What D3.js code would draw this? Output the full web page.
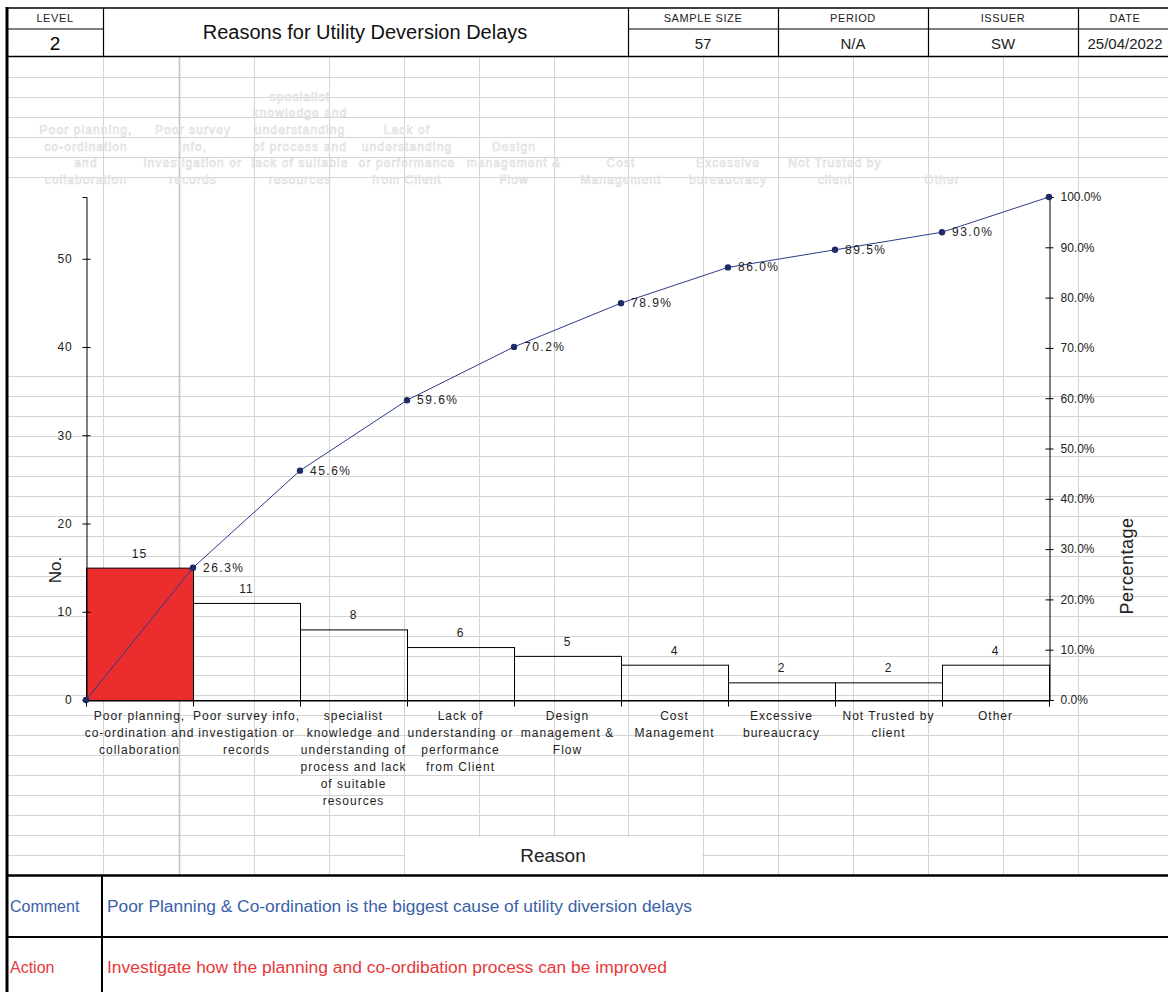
<!DOCTYPE html>
<html>
<head>
<meta charset="utf-8">
<script src="https://cdn.jsdelivr.net/npm/d3@7"></script>
<style>
  body { margin: 0; background: #fff; }
  svg { display: block; }
  text { font-family: "Liberation Sans", Arial, sans-serif; }
</style>
</head>
<body>
<svg id="sheet" width="1168" height="992"></svg>
<script>
// ---- report data ----
const level = "2";
const title = "Reasons for Utility Deversion Delays";
const headerFields = ["SAMPLE SIZE", "PERIOD", "ISSUER", "DATE"];
const headerValues = ["57", "N/A", "SW", "25/04/2022"];

const reasons = [
  "Poor planning, co-ordination and collaboration",
  "Poor survey info, investigation or records",
  "specialist knowledge and understanding of process and lack of suitable resources",
  "Lack of understanding or performance from Client",
  "Design management & Flow",
  "Cost Management",
  "Excessive bureaucracy",
  "Not Trusted by client",
  "Other"
];
// category labels as wrapped under the axis
const reasonLines = [
  ["Poor planning,", "co-ordination and", "collaboration"],
  ["Poor survey info,", "investigation or", "records"],
  ["specialist", "knowledge and", "understanding of", "process and lack", "of suitable", "resources"],
  ["Lack of", "understanding or", "performance", "from Client"],
  ["Design", "management &", "Flow"],
  ["Cost", "Management"],
  ["Excessive", "bureaucracy"],
  ["Not Trusted by", "client"],
  ["Other"]
];
// secondary (cumulative) axis labels, wrapped narrower
const reasonLinesTop = [
  ["Poor planning,", "co-ordination", "and", "collaboration"],
  ["Poor survey", "info,", "investigation or", "records"],
  ["specialist", "knowledge and", "understanding", "of process and", "lack of suitable", "resources"],
  ["Lack of", "understanding", "or performance", "from Client"],
  ["Design", "management &", "Flow"],
  ["Cost", "Management"],
  ["Excessive", "bureaucracy"],
  ["Not Trusted by", "client"],
  ["Other"]
];
const counts = [15, 11, 8, 6, 5, 4, 2, 2, 4];
const cumulativePct = [0, 26.3, 45.6, 59.6, 70.2, 78.9, 86.0, 89.5, 93.0, 100.0];
const countTicks = [0, 10, 20, 30, 40, 50];
const pctTicks = [0, 10, 20, 30, 40, 50, 60, 70, 80, 90, 100];

const commentText = "Poor Planning & Co-ordination is the biggest cause of utility diversion delays";
const actionText = "Investigate how the planning and co-ordibation process can be improved";

// ---- drawing ----
const svg = d3.select("#sheet");
const W = 1168;

// spreadsheet cell grid behind the chart
const grid = svg.append("g").attr("stroke", "#d4d4d4").attr("stroke-width", 1);
const sheetCols = [103, 179, 254, 329, 404, 479, 554, 628, 703, 778, 853, 928, 1003, 1078];
const rowTop = 57, rowBottom = 875, rowCount = 41;
const rowH = (rowBottom - rowTop) / rowCount;
const rowYs = d3.range(1, rowCount).map(k => Math.round(rowTop + k * rowH) + 0.5)
  .filter(y => y < 190 || y > 370);
grid.selectAll("line.h").data(rowYs).join("line").attr("class", "h")
  .attr("x1", 8).attr("x2", W).attr("y1", d => d).attr("y2", d => d);
grid.selectAll("line.v").data(sheetCols).join("line").attr("class", "v")
  .attr("x1", d => d + 0.5).attr("x2", d => d + 0.5).attr("y1", rowTop).attr("y2", rowBottom)
  .attr("stroke", d => d === 179 ? "#c4c4c4" : null)
  .attr("stroke-width", d => d === 179 ? 1.6 : null);

// scales
const x = d3.scaleBand().domain(reasons).range([86, 1049]).paddingInner(0).paddingOuter(0);
const xStep = d3.scaleLinear().domain([0, reasons.length]).range([86, 1049]);
const yCount = d3.scaleLinear().domain([0, d3.sum(counts)]).range([700, 197]);
const yPct = d3.scaleLinear().domain([0, 100]).range([700, 197]);

const ink = "#222";

// faint secondary category labels above the plot
const ghost = svg.append("g")
  .attr("font-size", 12).attr("letter-spacing", 1.1).attr("text-anchor", "middle")
  .attr("fill", "#fbfbfb").attr("stroke", "#dcdcdc").attr("stroke-width", 0.6);
reasonLinesTop.forEach((lines, i) => {
  const cx = xStep(i);
  lines.forEach((ln, j) => {
    ghost.append("text").attr("x", cx).attr("y", 184 - (lines.length - 1 - j) * 16.7).text(ln);
  });
});

// bars (only the top reason is filled)
svg.append("g").selectAll("rect").data(counts).join("rect")
  .attr("x", (d, i) => x(reasons[i]) + 0.5)
  .attr("y", d => yCount(d) + 0.5)
  .attr("width", x.bandwidth())
  .attr("height", d => yCount(0) - yCount(d))
  .attr("fill", (d, i) => i === 0 ? "#ec2d2e" : "none")
  .attr("stroke", "#000").attr("stroke-width", 1);

// bar value labels
svg.append("g").attr("font-size", 12).attr("letter-spacing", 1).attr("fill", ink).attr("text-anchor", "middle")
  .selectAll("text").data(counts).join("text")
  .attr("x", (d, i) => x(reasons[i]) + x.bandwidth() / 2)
  .attr("y", d => yCount(d) - 10)
  .text(d => d);

// left axis
const gl = svg.append("g").attr("transform", "translate(86.5,0)")
  .call(d3.axisLeft(yCount).tickValues(countTicks).tickSizeOuter(0).tickSize(4).tickPadding(10));
gl.select(".domain").attr("stroke", "#000");
gl.selectAll(".tick line").attr("x1", -4).attr("x2", 4).attr("stroke", "#000");
gl.selectAll(".tick text").attr("font-size", 12).attr("letter-spacing", 0.8).attr("fill", ink)
  .attr("font-family", "Liberation Sans, Arial, sans-serif");

// right axis
const gr = svg.append("g").attr("transform", "translate(1049.5,0)")
  .call(d3.axisRight(yPct).tickValues(pctTicks).tickSizeOuter(0).tickSize(4).tickPadding(7)
    .tickFormat(d => d.toFixed(1) + "%"));
gr.select(".domain").attr("stroke", "#000");
gr.selectAll(".tick line").attr("x1", -4).attr("x2", 4).attr("stroke", "#000");
gr.selectAll(".tick text").attr("font-size", 12).attr("fill", ink)
  .attr("font-family", "Liberation Sans, Arial, sans-serif");

// bottom axis with ticks on category boundaries
const gb = svg.append("g").attr("transform", "translate(0,700.5)")
  .call(d3.axisBottom(xStep).tickValues(d3.range(0, reasons.length + 1)).tickSizeOuter(0).tickSize(6).tickFormat(""));
gb.select(".domain").attr("stroke", "#000");
gb.selectAll(".tick line").attr("stroke", "#000");

// category labels
const cat = svg.append("g").attr("font-size", 12).attr("letter-spacing", 1).attr("fill", ink).attr("text-anchor", "middle");
reasonLines.forEach((lines, i) => {
  const cx = x(reasons[i]) + x.bandwidth() / 2;
  lines.forEach((ln, j) => {
    cat.append("text").attr("x", cx).attr("y", 720 + j * 17).text(ln);
  });
});

// cumulative percentage line
const pts = cumulativePct.map((v, i) => [xStep(i), yPct(v)]);
svg.append("path").datum(pts)
  .attr("d", d3.line())
  .attr("fill", "none").attr("stroke", "#2d3b8e").attr("stroke-width", 1);
svg.append("g").selectAll("circle").data(pts).join("circle")
  .attr("cx", d => d[0]).attr("cy", d => d[1]).attr("r", 3.2).attr("fill", "#1f2a66");
const labelled = cumulativePct.map((v, i) => ({ v, i })).filter(d => d.i > 0 && d.v < 100);
svg.append("g").attr("font-size", 12).attr("letter-spacing", 1.5).attr("fill", ink)
  .selectAll("text").data(labelled).join("text")
  .attr("x", d => xStep(d.i) + 10)
  .attr("y", d => yPct(d.v) + 4)
  .text(d => d.v.toFixed(1) + "%");

// axis titles
svg.append("text").attr("transform", "translate(61,570) rotate(-90)")
  .attr("text-anchor", "middle").attr("font-size", 17).attr("fill", ink).text("No.");
svg.append("text").attr("transform", "translate(1133,566) rotate(-90)")
  .attr("text-anchor", "middle").attr("font-size", 18).attr("letter-spacing", 0.5).attr("fill", ink).text("Percentage");

// x axis title in its own cell
svg.append("rect").attr("x", 405).attr("y", 837).attr("width", 297).attr("height", 37).attr("fill", "#fff");
svg.append("text").attr("x", 553).attr("y", 862).attr("text-anchor", "middle")
  .attr("font-size", 19).attr("fill", ink).text("Reason");

// ---- header block ----
const hdr = svg.append("g");
hdr.append("text").attr("x", 55).attr("y", 22).attr("text-anchor", "middle")
  .attr("font-size", 11).attr("letter-spacing", 0.6).attr("fill", ink).text("LEVEL");
hdr.append("text").attr("x", 55).attr("y", 50).attr("text-anchor", "middle")
  .attr("font-size", 19).attr("fill", "#000").text(level);
hdr.append("text").attr("x", 365).attr("y", 39).attr("text-anchor", "middle")
  .attr("font-size", 20).attr("fill", "#111").text(title);

const fieldEdges = [628, 778, 928, 1078, 1168];
headerFields.forEach((f, i) => {
  const cx = (fieldEdges[i] + fieldEdges[i + 1]) / 2 + (i === 3 ? 2 : 0);
  hdr.append("text").attr("x", cx).attr("y", 22).attr("text-anchor", "middle")
    .attr("font-size", 11).attr("letter-spacing", 0.6).attr("fill", ink).text(f);
  hdr.append("text").attr("x", cx).attr("y", 49).attr("text-anchor", "middle")
    .attr("font-size", 15).attr("fill", ink).text(headerValues[i]);
});

// ---- comment / action rows ----
svg.append("text").attr("x", 10).attr("y", 912).attr("font-size", 16).attr("fill", "#3a5fa8").text("Comment");
svg.append("text").attr("x", 107).attr("y", 912).attr("font-size", 16).attr("fill", "#3a5fa8")
  .attr("textLength", 585).attr("lengthAdjust", "spacingAndGlyphs").text(commentText);
svg.append("text").attr("x", 10).attr("y", 973).attr("font-size", 16).attr("fill", "#e8393b").text("Action");
svg.append("text").attr("x", 107).attr("y", 973).attr("font-size", 16).attr("fill", "#e8393b")
  .attr("textLength", 560).attr("lengthAdjust", "spacingAndGlyphs").text(actionText);

// ---- form borders ----
const borders = svg.append("g").attr("stroke", "#000").attr("fill", "none");
const seg = (x1, y1, x2, y2, w) => borders.append("line")
  .attr("x1", x1).attr("y1", y1).attr("x2", x2).attr("y2", y2).attr("stroke-width", w);
seg(6, 8, W, 8, 1.5);
seg(6, 29, 103, 29, 1.2);
seg(628, 29, W, 29, 1.2);
seg(6, 56.5, W, 56.5, 1.5);
[103, 628, 778, 928, 1078].forEach(cx => seg(cx + 0.5, 8, cx + 0.5, 56.5, 1.2));
seg(7, 7, 7, 992, 3);
seg(6, 875.5, W, 875.5, 2.5);
seg(6, 937, W, 937, 2);
seg(102, 875, 102, 992, 2);
</script>
</body>
</html>
